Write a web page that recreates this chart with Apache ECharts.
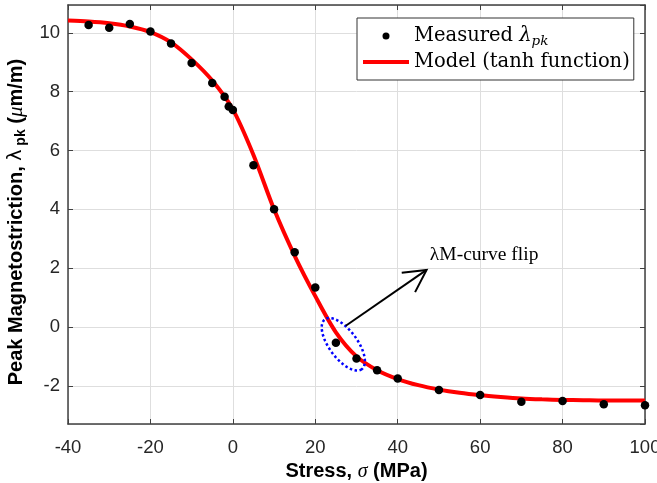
<!DOCTYPE html>
<html><head><meta charset="utf-8">
<script src="https://cdn.jsdelivr.net/npm/echarts@6/dist/echarts.min.js"></script>
<style>html,body{margin:0;padding:0;background:#fff}#c{width:657px;height:483px}</style>
</head><body><div id="c"></div>
<script>
// Measured peak magnetostriction
const stressMeasured = [-35, -30, -25, -20, -15, -10, -5, -2, -1, 0, 5, 10, 15, 20, 25, 30, 35, 40, 50, 60, 70, 80, 90, 100];
const lambdaMeasured = [10.27, 10.18, 10.3, 10.05, 9.64, 8.98, 8.3, 7.83, 7.5, 7.38, 5.5, 4.0, 2.54, 1.34, -0.54, -1.07, -1.47, -1.75, -2.14, -2.31, -2.54, -2.52, -2.63, -2.66];
// Model (tanh function) curve
const stressModel = [-40, -35, -30, -25, -20, -15, -10, -5, 0, 5, 10, 15, 20, 25, 30, 35, 40, 45, 50, 55, 60, 65, 70, 75, 80, 85, 90, 95, 100];
const lambdaModel = [10.42, 10.39, 10.33, 10.22, 10.03, 9.68, 9.1, 8.38, 7.4, 5.85, 4.0, 2.42, 1.05, -0.18, -1.0, -1.47, -1.77, -1.98, -2.13, -2.24, -2.32, -2.38, -2.43, -2.46, -2.48, -2.49, -2.5, -2.5, -2.5];
// axis ranges
const xMin = -40, xMax = 100, xStep = 20;
const yMin = -3.3, yMax = 10.95;

const measuredData = stressMeasured.map((s, i) => [s, lambdaMeasured[i]]);
const modelData = stressModel.map((s, i) => [s, lambdaModel[i]]);

const chart = echarts.init(document.getElementById('c'), null, {renderer: 'canvas'});
const axisCol = '#404040';
const gridCol = '#dedede';
const baseX = {
  type: 'value', min: xMin, max: xMax, interval: xStep,
  axisLine: {show: true, onZero: false, lineStyle: {color: axisCol, width: 1.5}},
  axisTick: {show: true, inside: true, length: 5, lineStyle: {color: axisCol}},
  splitLine: {show: false}
};
const baseY = {
  type: 'value', min: yMin, max: yMax, splitNumber: 7,
  axisLine: {show: true, onZero: false, lineStyle: {color: axisCol, width: 1.5}},
  axisTick: {show: true, inside: true, length: 5, lineStyle: {color: axisCol}},
  splitLine: {show: false}
};
chart.setOption({
  animation: false,
  backgroundColor: '#fff',
  grid: {left: 68, right: 12, top: 5, bottom: 59, containLabel: false, outerBoundsMode: 'none'},
  xAxis: [
    Object.assign({}, baseX, {
      position: 'bottom',
      axisLabel: {show: true, color: '#262626', fontFamily: 'Arial, Liberation Sans', fontSize: 18.5, margin: 14},
      splitLine: {show: true, lineStyle: {color: gridCol, width: 1}},
      name: 'Stress, {sig|σ} (MPa)', nameLocation: 'middle', nameGap: 35,
      nameTextStyle: {color: '#000', fontFamily: 'Arial, Liberation Sans', fontWeight: 'bold', fontSize: 20,
        rich: {sig: {fontFamily: 'Liberation Serif', fontStyle: 'italic', fontWeight: 'normal', fontSize: 20}}}
    }),
    Object.assign({}, baseX, {position: 'top', axisLabel: {show: false}})
  ],
  yAxis: [
    Object.assign({}, baseY, {
      position: 'left',
      axisLabel: {show: true, color: '#262626', fontFamily: 'Arial, Liberation Sans', fontSize: 18.5, margin: 8,
        showMinLabel: false, showMaxLabel: false},
      splitLine: {show: true, lineStyle: {color: gridCol, width: 1}},
      name: 'Peak Magnetostriction, {sym|λ}{sub| pk} ({mu|μ}m/m)', nameLocation: 'middle', nameGap: 39,
      nameTextStyle: {color: '#000', fontFamily: 'Arial, Liberation Sans', fontWeight: 'bold', fontSize: 20, lineHeight: 24,
        padding: [0, 15, 0, 0],
        rich: {
          sym: {fontFamily: 'DejaVu Sans', fontWeight: 'normal', fontSize: 19, lineHeight: 24},
          sub: {fontFamily: 'Arial, Liberation Sans', fontWeight: 'bold', fontSize: 14, lineHeight: 14, verticalAlign: 'bottom'},
          mu: {fontFamily: 'Liberation Serif', fontStyle: 'italic', fontWeight: 'normal', fontSize: 21, lineHeight: 24}
        }}
    }),
    Object.assign({}, baseY, {position: 'right', axisLabel: {show: false}})
  ],
  legend: {
    show: true, orient: 'vertical', left: 357, top: 18,
    padding: [6, 4, 6, 4], itemGap: 2, itemWidth: 46, itemHeight: 7, itemTextGap: 0,
    backgroundColor: '#fff', borderColor: '#333', borderWidth: 1,
    data: [
      {name: 'Measured', icon: 'circle', itemStyle: {color: '#000'}},
      {name: 'Model', itemStyle: {color: 'rgba(0,0,0,0)', borderWidth: 0}, lineStyle: {color: '#ff0000', width: 4}}
    ],
    formatter: function (n) {
      return n === 'Measured' ? 'Measured {it|λ}{sub|pk}' : 'Model (tanh function)';
    },
    textStyle: {color: '#000', fontFamily: 'DejaVu Serif', fontSize: 19.5, lineHeight: 24,
      rich: {
        it: {fontFamily: 'DejaVu Serif', fontStyle: 'italic', fontSize: 19.5, lineHeight: 24},
        sub: {fontFamily: 'DejaVu Serif', fontStyle: 'italic', fontSize: 13.5, lineHeight: 14, verticalAlign: 'bottom'}
      }}
  },
  series: [
    {
      name: 'Model', type: 'line', data: modelData, smooth: 0.3, showSymbol: false, symbol: 'none',
      lineStyle: {color: '#ff0000', width: 4}, itemStyle: {color: '#ff0000'}, z: 2
    },
    {
      name: 'Measured', type: 'scatter', data: measuredData, symbol: 'circle', symbolSize: 8.5,
      itemStyle: {color: '#000', opacity: 1}, z: 3
    }
  ]
});

// Annotations: dotted ellipse, arrow and text, placed in data coordinates
const toPx = p => chart.convertToPixel({xAxisIndex: 0, yAxisIndex: 0}, p);
const ellC = toPx([26.8, -0.59]);
const ellA = 31, ellB = 14, ellAng = 53.5 * Math.PI / 180;
const ellPts = [];
for (let k = 0; k <= 96; k++) {
  const f = k / 96 * 2 * Math.PI;
  ellPts.push([
    ellC[0] + ellA * Math.cos(ellAng) * Math.cos(f) - ellB * Math.sin(ellAng) * Math.sin(f),
    ellC[1] + ellA * Math.sin(ellAng) * Math.cos(f) + ellB * Math.cos(ellAng) * Math.sin(f)
  ]);
}
const aS = toPx([27.4, 0.04]);
const aT = toPx([47.0, 1.94]);
const ang = Math.atan2(aT[1] - aS[1], aT[0] - aS[0]);
const headLen = 25, headAng = 28 * Math.PI / 180;
const h1 = [aT[0] - headLen * Math.cos(ang - headAng), aT[1] - headLen * Math.sin(ang - headAng)];
const h2 = [aT[0] - headLen * Math.cos(ang + headAng), aT[1] - headLen * Math.sin(ang + headAng)];
const txt = toPx([47.8, 2.45]);

chart.setOption({
  graphic: [
    {type: 'polyline', z: 10, shape: {points: ellPts},
      style: {stroke: '#0000ff', fill: null, lineWidth: 2.5, lineDash: [2.5, 2.5]}},
    {type: 'line', z: 10, shape: {x1: aS[0], y1: aS[1], x2: aT[0], y2: aT[1]},
      style: {stroke: '#000', lineWidth: 2}},
    {type: 'polyline', z: 10, shape: {points: [h1, aT, h2]},
      style: {stroke: '#000', fill: null, lineWidth: 2}},
    {type: 'text', z: 10, x: txt[0], y: txt[1],
      style: {text: 'λM-curve flip', fill: '#000', font: '19.5px "Liberation Serif", serif', verticalAlign: 'middle'}}
  ]
});
</script>
</body></html>
